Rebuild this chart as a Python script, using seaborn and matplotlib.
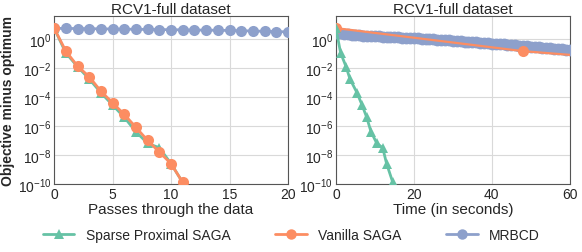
import numpy as np
import pandas as pd
import seaborn as sns
import matplotlib.pyplot as plt
from matplotlib.lines import Line2D

# data (log10 of objective minus optimum)
passes = [0, 1, 2, 3, 4, 5, 6, 7, 8, 9, 10, 11, 12]
sparse_log = [0.76, -0.95, -1.9, -2.75, -3.7, -4.55, -5.4, -6.4, -7.2, -7.5, -8.6, -9.9, -11.2]
vanilla_log = [0.76, -0.83, -1.86, -2.6, -3.6, -4.4, -5.2, -6.1, -7.0, -7.8, -8.6, -9.9, -11.0]

mrbcd_passes = list(range(21))
mrbcd_pass_log = [0.74, 0.74, 0.73, 0.72, 0.71, 0.70, 0.69, 0.68, 0.67, 0.66, 0.65,
                  0.64, 0.63, 0.62, 0.61, 0.60, 0.58, 0.56, 0.54, 0.52, 0.50]

sparse_time = [0, 1.2, 2.6, 3.6, 5.4, 6.7, 7.9, 9.0, 10.5, 12.0, 13.0, 14.6, 16.0]
vanilla_time = [0, 48, 96]
vanilla_time_log = [0.76, -0.83, -1.86]

mrbcd_time = list(range(61))
mrbcd_time_log = [0.45, 0.40, 0.36, 0.33, 0.31, 0.29, 0.27, 0.25, 0.23, 0.215,
                  0.20, 0.19, 0.175, 0.16, 0.145, 0.13, 0.12, 0.105, 0.095, 0.08,
                  0.07, 0.05, 0.03, 0.015, 0.00, -0.02, -0.04, -0.055, -0.07, -0.09,
                  -0.11, -0.13, -0.15, -0.17, -0.19, -0.21, -0.23, -0.25, -0.27, -0.29,
                  -0.31, -0.33, -0.35, -0.37, -0.39, -0.41, -0.43, -0.45, -0.47, -0.495,
                  -0.52, -0.54, -0.56, -0.585, -0.61, -0.635, -0.66, -0.685, -0.71, -0.735,
                  -0.76]

green, orange, blue = sns.color_palette("Set2")[:3]

sns.set_theme(style="whitegrid")
plt.rcParams['font.family'] = ['Liberation Sans', 'DejaVu Sans']
plt.rcParams['mathtext.fontset'] = 'custom'
plt.rcParams['mathtext.rm'] = 'Liberation Sans'
plt.rcParams['mathtext.it'] = 'Liberation Sans'

fig, axes = plt.subplots(1, 2, figsize=(5.82, 2.53), dpi=100)
plt.subplots_adjust(left=0.093, right=0.979, top=0.933, bottom=0.269, wspace=0.205)

def draw(ax, x, ylog, color, marker, ms, z, lw=2):
    y = [10 ** v for v in ylog]
    sns.lineplot(x=x, y=y, ax=ax, color=color, marker=marker, markersize=ms,
                 markeredgewidth=0, linewidth=lw, zorder=z)

ax = axes[0]
draw(ax, mrbcd_passes, mrbcd_pass_log, blue, 'o', 8, 3)
draw(ax, passes, sparse_log, green, '^', 7.5, 4)
draw(ax, passes, vanilla_log, orange, 'o', 8, 5)
ax.set_xlim(0, 20)
ax.set_xticks([0, 5, 10, 15, 20])
ax.set_xlabel('Passes through the data', fontsize=11, labelpad=1)
ax.set_ylabel('Objective minus optimum', fontsize=10, fontweight='bold', labelpad=2)

ax = axes[1]
draw(ax, mrbcd_time, mrbcd_time_log, blue, 'o', 8.5, 3)
draw(ax, sparse_time, sparse_log, green, '^', 7.5, 5)
draw(ax, vanilla_time, vanilla_time_log, orange, 'o', 8, 4, lw=1.6)
ax.set_xlim(0, 60)
ax.set_xticks([0, 20, 40, 60])
ax.set_xlabel('Time (in seconds)', fontsize=11, labelpad=1)
ax.set_ylabel('')

for ax in axes:
    ax.set_yscale('log')
    ax.set_ylim(1e-10, 10 ** 1.6)
    ax.set_yticks([1e-10, 1e-8, 1e-6, 1e-4, 1e-2, 1e0])
    ax.minorticks_off()
    ax.set_title('RCV1-full dataset', fontsize=11, pad=2)
    ax.tick_params(labelsize=10, pad=2, length=0)
    ax.grid(True, color='#d9d9d9', linewidth=0.8)
    for s in ax.spines.values():
        s.set_color('#555555')
        s.set_linewidth(0.8)

handles = [
    Line2D([], [], color=green, marker='^', markersize=7.5, markeredgewidth=0, linewidth=2),
    Line2D([], [], color=orange, marker='o', markersize=7.5, markeredgewidth=0, linewidth=2),
    Line2D([], [], color=blue, marker='o', markersize=7.5, markeredgewidth=0, linewidth=2),
]
fig.legend(handles, ['Sparse Proximal SAGA', 'Vanilla SAGA', 'MRBCD'], loc='lower center',
           bbox_to_anchor=(0.5, -0.01), ncol=3, frameon=False, fontsize=10,
           handlelength=2.3, columnspacing=3.2)

fig.savefig('out.png', dpi=100)
